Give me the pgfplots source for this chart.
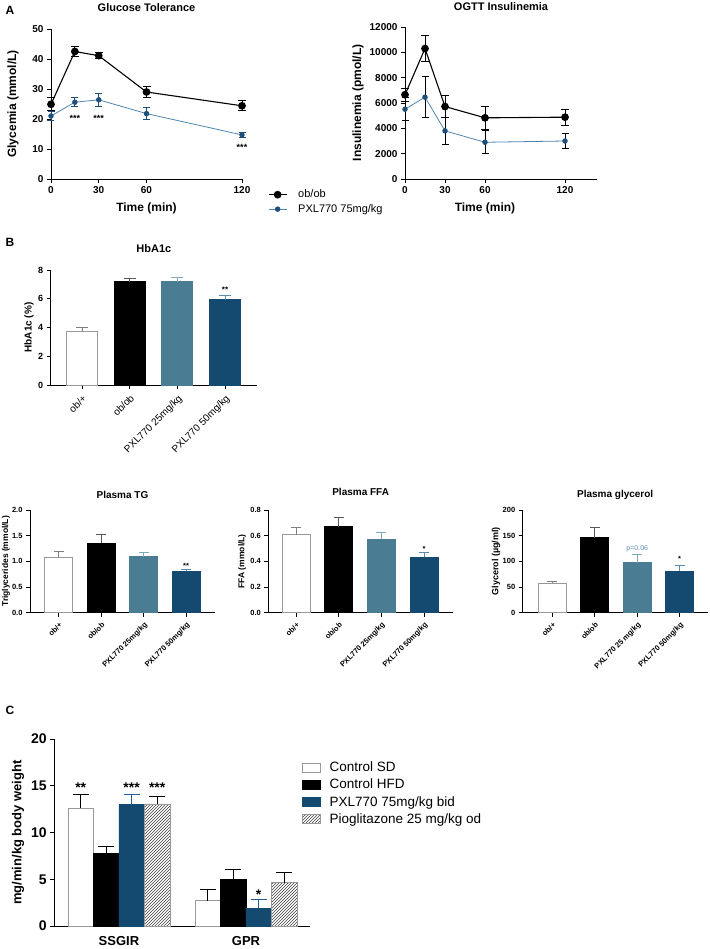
\documentclass[border=0pt]{standalone}
\usepackage{fontspec}
\setmainfont{Liberation Sans}
\usepackage{pgfplots}
\pgfplotsset{compat=1.18}
\usetikzlibrary{patterns}
\definecolor{dblue}{HTML}{154A70}
\definecolor{tealb}{HTML}{4A7C93}
\definecolor{lblue}{HTML}{4F86B0}
\definecolor{mblue}{HTML}{1D4F7A}
\definecolor{ebteal}{HTML}{7FAABD}
\definecolor{ebdblue}{HTML}{5B8DB3}
\definecolor{pblue}{HTML}{1F5F95}
\pgfplotsset{
 gp/.style={scale only axis, axis lines=left, axis line style={line width=0.9pt,-},
  tick align=outside, major tick length=4pt, tick style={line width=0.9pt, black},
  clip=false, /pgf/number format/assume math mode=true, /pgf/number format/1000 sep={},
  scaled ticks=false},
 ylpos/.style={every axis y label/.style={at={(axis description cs:#1,0.5)}, rotate=90, anchor=center}},
 ttl/.style={every axis title/.style={at={(axis description cs:0.5,1)}, anchor=base, yshift=#1}},
 eb/.style n args={2}{/pgfplots/error bars/y dir=plus, /pgfplots/error bars/y explicit,
  /pgfplots/error bars/error bar style={line width=0.9pt, color=#1},
  /pgfplots/error bars/error mark options={rotate=90, mark size=#2, line width=0.9pt, color=#1}},
 ebb/.style n args={2}{/pgfplots/error bars/y dir=both, /pgfplots/error bars/y explicit,
  /pgfplots/error bars/error bar style={line width=0.9pt, color=#1},
  /pgfplots/error bars/error mark options={rotate=90, mark size=#2, line width=0.9pt, color=#1}},
}
\begin{document}
\begin{tikzpicture}[x=1pt,y=1pt]
\path[use as bounding box] (0,0) rectangle (709,-949);
\node[font=\bfseries\fontsize{12}{14}\selectfont] at (10,-10) {A};
\node[font=\bfseries\fontsize{12}{14}\selectfont] at (10,-242) {B};
\node[font=\bfseries\fontsize{12}{14}\selectfont] at (10,-710) {C};

% ---------- A left: Glucose tolerance
\begin{axis}[gp, at={(51pt,-179pt)}, anchor=south west, width=191pt, height=150pt,
 xmin=0, xmax=120, ymin=0, ymax=50, xtick={0,30,60,120}, ytick={0,10,20,30,40,50},
 ticklabel style={font=\bfseries\fontsize{10}{12}\selectfont},
 title={Glucose Tolerance}, ttl=18pt, title style={font=\bfseries\fontsize{11}{13}\selectfont},
 xlabel={Time (min)}, ylabel={Glycemia (mmol/L)}, ylpos=-0.199,
 every axis x label/.style={at={(axis cs:60,0)}, anchor=base, yshift=-33pt},
 label style={font=\bfseries\fontsize{12}{14}\selectfont},
 legend image code/.code={\draw[mark repeat=2,mark phase=2,#1] plot coordinates {(0pt,0pt) (9pt,0pt) (18pt,0pt)}; \path (27pt,0pt);},
 legend style={at={(1.12,-0.045)}, anchor=north west, draw=none, fill=none,
  font=\fontsize{11}{13}\selectfont, row sep=1pt, cells={anchor=west}},
]
\addplot[black, line width=1.1pt, mark=*, mark size=3.3pt, ebb={black}{4pt}]
 coordinates {(0,24.9)+-(0,2.2) (15,42.5)+-(0,1.7) (30,41.1)+-(0,1.0) (60,29.0)+-(0,1.8) (120,24.4)+-(0,1.7)};
\addlegendentry{ob/ob}
\addplot[lblue, line width=0.8pt, mark=*, mark size=2.3pt, mark options={fill=mblue, draw=mblue}, ebb={mblue}{3.5pt}]
 coordinates {(0,21.0)+-(0,1.5) (15,25.6)+-(0,1.5) (30,26.4)+-(0,2.2) (60,21.8)+-(0,2.0) (120,14.7)+-(0,0.8)};
\addlegendentry{PXL770 75mg/kg}
\node[font=\bfseries\fontsize{9}{10}\selectfont] at (axis cs:15,20.3) {***};
\node[font=\bfseries\fontsize{9}{10}\selectfont] at (axis cs:30,20.3) {***};
\node[font=\bfseries\fontsize{9}{10}\selectfont] at (axis cs:120,10.6) {***};
\end{axis}

% ---------- A right: OGTT insulinemia
\begin{axis}[gp, at={(405pt,-179pt)}, anchor=south west, width=192pt, height=152pt,
 xmin=0, xmax=144, ymin=0, ymax=12000, xtick={0,30,60,120}, ytick={0,2000,4000,6000,8000,10000,12000},
 ticklabel style={font=\bfseries\fontsize{10}{12}\selectfont},
 title={OGTT Insulinemia}, ttl=16pt, title style={font=\bfseries\fontsize{11}{13}\selectfont},
 xlabel={Time (min)}, ylabel={Insulinemia (pmol/L)}, ylpos=-0.245,
 every axis x label/.style={at={(axis cs:60,0)}, anchor=base, yshift=-33pt},
 label style={font=\bfseries\fontsize{12}{14}\selectfont},
]
\addplot[black, line width=1.1pt, mark=*, mark size=3.3pt, ebb={black}{4pt}]
 coordinates {(0,6650)+-(0,520) (15,10300)+-(0,1030) (30,5720)+-(0,870) (60,4830)+-(0,900) (120,4880)+-(0,650)};
\addplot[lblue, line width=0.8pt, mark=*, mark size=2.3pt, mark options={fill=mblue, draw=mblue}, ebb={black}{3.5pt}]
 coordinates {(0,5510)+-(0,920) (15,6460)+-(0,1640) (30,3800)+-(0,1060) (60,2900)+-(0,920) (120,3000)+-(0,590)};
\end{axis}

% ---------- B HbA1c
\begin{axis}[gp, ybar, at={(50.7pt,-385pt)}, anchor=south west, width=206.3pt, height=115pt,
 xmin=-0.656, xmax=3.67, ymin=0, ymax=8, ytick={0,2,4,6,8}, xtick={0,1,2,3},
 xticklabels={ob/+,ob/ob,PXL770 25mg/kg,PXL770 50mg/kg},
 xticklabel style={rotate=45, anchor=north east, font=\fontsize{10}{12}\selectfont},
 yticklabel style={font=\bfseries\fontsize{9}{11}\selectfont},
 title={HbA1c}, ttl=18pt, title style={font=\bfseries\fontsize{11}{13}\selectfont},
 ylabel={HbA1c (\%)}, ylpos=-0.105, ylabel style={font=\bfseries\fontsize{10}{12}\selectfont},
 bar width=31pt]
\addplot[fill=white, draw=gray!80, line width=0.9pt, bar shift=0pt, eb={gray}{6pt}] coordinates {(0,3.76)+-(0,0.21)};
\addplot[fill=black, draw=black, line width=0.9pt, bar shift=0pt, eb={gray!70!black}{6pt}] coordinates {(1,7.19)+-(0,0.23)};
\addplot[fill=tealb, draw=tealb, line width=0.9pt, bar shift=0pt, eb={ebteal}{6pt}] coordinates {(2,7.17)+-(0,0.33)};
\addplot[fill=dblue, draw=dblue, line width=0.9pt, bar shift=0pt, eb={ebdblue}{6pt}] coordinates {(3,5.92)+-(0,0.28)};
\node[font=\bfseries\fontsize{8}{9}\selectfont] at (axis cs:3,6.62) {**};
\end{axis}

% ---------- B Plasma TG
\begin{axis}[gp, ybar, at={(30pt,-612.7pt)}, anchor=south west, width=185pt, height=102.7pt,
 xmin=-0.677, xmax=3.68, ymin=0, ymax=2, ytick={0,0.5,1,1.5,2}, xtick={0,1,2,3},
 yticklabel style={font=\bfseries\fontsize{7.5}{9}\selectfont, /pgf/number format/fixed, /pgf/number format/fixed zerofill, /pgf/number format/precision=1},
 xticklabels={ob/+,ob/ob,PXL770 25mg/kg,PXL770 50mg/kg},
 xticklabel style={rotate=45, anchor=north east, font=\bfseries\fontsize{7.5}{9}\selectfont},
 title={Plasma TG}, ttl=11.5pt, title style={font=\bfseries\fontsize{10}{12}\selectfont},
 ylabel={Triglycerides (mmol/L)}, ylpos=-0.13, ylabel style={font=\bfseries\fontsize{8.5}{10}\selectfont},
 bar width=28pt]
\addplot[fill=white, draw=gray!80, line width=0.9pt, bar shift=0pt, eb={gray}{5pt}] coordinates {(0,1.08)+-(0,0.11)};
\addplot[fill=black, draw=black, line width=0.9pt, bar shift=0pt, eb={gray!70!black}{5pt}] coordinates {(1,1.35)+-(0,0.18)};
\addplot[fill=tealb, draw=tealb, line width=0.9pt, bar shift=0pt, eb={ebteal}{5pt}] coordinates {(2,1.09)+-(0,0.09)};
\addplot[fill=dblue, draw=dblue, line width=0.9pt, bar shift=0pt, eb={ebdblue}{5pt}] coordinates {(3,0.805)+-(0,0.045)};
\node[font=\bfseries\fontsize{7.5}{9}\selectfont] at (axis cs:3,0.91) {**};
\end{axis}

% ---------- B Plasma FFA
\begin{axis}[gp, ybar, at={(268.3pt,-612.7pt)}, anchor=south west, width=184.7pt, height=102.7pt,
 xmin=-0.65, xmax=3.68, ymin=0, ymax=0.8, ytick={0,0.2,0.4,0.6,0.8}, xtick={0,1,2,3},
 yticklabel style={font=\bfseries\fontsize{7.5}{9}\selectfont, /pgf/number format/fixed, /pgf/number format/fixed zerofill, /pgf/number format/precision=1},
 xticklabels={ob/+,ob/ob,PXL770 25mg/kg,PXL770 50mg/kg},
 xticklabel style={rotate=45, anchor=north east, font=\bfseries\fontsize{7.5}{9}\selectfont},
 title={Plasma FFA}, ttl=14.5pt, title style={font=\bfseries\fontsize{10}{12}\selectfont},
 ylabel={FFA (mmol/L)}, ylpos=-0.142, ylabel style={font=\bfseries\fontsize{8.5}{10}\selectfont},
 bar width=28pt]
\addplot[fill=white, draw=gray!80, line width=0.9pt, bar shift=0pt, eb={gray}{5pt}] coordinates {(0,0.608)+-(0,0.054)};
\addplot[fill=black, draw=black, line width=0.9pt, bar shift=0pt, eb={gray!70!black}{5pt}] coordinates {(1,0.670)+-(0,0.075)};
\addplot[fill=tealb, draw=tealb, line width=0.9pt, bar shift=0pt, eb={ebteal}{5pt}] coordinates {(2,0.574)+-(0,0.055)};
\addplot[fill=dblue, draw=dblue, line width=0.9pt, bar shift=0pt, eb={ebdblue}{5pt}] coordinates {(3,0.431)+-(0,0.037)};
\node[font=\bfseries\fontsize{7.5}{9}\selectfont] at (axis cs:3,0.50) {*};
\end{axis}

% ---------- B Plasma glycerol
\begin{axis}[gp, ybar, at={(522.7pt,-612.7pt)}, anchor=south west, width=185pt, height=102.7pt,
 xmin=-0.70, xmax=3.66, ymin=0, ymax=200, ytick={0,50,100,150,200}, xtick={0,1,2,3},
 yticklabel style={font=\bfseries\fontsize{7.5}{9}\selectfont},
 xticklabels={ob/+,ob/ob,PXL770 25 mg/kg,PXL770 50mg/kg},
 xticklabel style={rotate=45, anchor=north east, font=\bfseries\fontsize{7.5}{9}\selectfont},
 title={Plasma glycerol}, ttl=13pt, title style={font=\bfseries\fontsize{10}{12}\selectfont},
 ylabel={Glycerol (µg/ml)}, ylpos=-0.144, ylabel style={font=\bfseries\fontsize{9}{11}\selectfont},
 bar width=28pt]
\addplot[fill=white, draw=gray!80, line width=0.9pt, bar shift=0pt, eb={gray}{5pt}] coordinates {(0,57)+-(0,4.7)};
\addplot[fill=black, draw=black, line width=0.9pt, bar shift=0pt, eb={gray!70!black}{5pt}] coordinates {(1,146)+-(0,19.6)};
\addplot[fill=tealb, draw=tealb, line width=0.9pt, bar shift=0pt, eb={ebteal}{5pt}] coordinates {(2,97.4)+-(0,16.2)};
\addplot[fill=dblue, draw=dblue, line width=0.9pt, bar shift=0pt, eb={ebdblue}{5pt}] coordinates {(3,81.2)+-(0,10.4)};
\node[font=\fontsize{7}{8}\selectfont, text=ebdblue] at (axis cs:2,124) {p=0.06};
\node[font=\bfseries\fontsize{7.5}{9}\selectfont] at (axis cs:3,104) {*};
\end{axis}

% ---------- C clamp
\begin{axis}[gp, ybar=0pt, bar width=25.5pt, at={(54.3pt,-926pt)}, anchor=south west, width=255.7pt, height=187pt,
 xmin=-0.509, xmax=1.504, ymin=0, ymax=20, ytick={0,5,10,15,20}, xtick={0,1},
 xticklabels={SSGIR,GPR}, xtick style={draw=none},
 xticklabel style={font=\bfseries\fontsize{13}{15}\selectfont, yshift=-3pt},
 yticklabel style={font=\bfseries\fontsize{14}{16}\selectfont},
 ylabel={mg/min/kg body weight}, ylpos=-0.142, ylabel style={font=\bfseries\fontsize{13}{15}\selectfont},
 legend image code/.code={\draw[#1] (0pt,-4.5pt) rectangle (18pt,4.5pt); \path (25pt,0pt);},
 legend style={at={(0.955,0.9)}, anchor=north west, draw=none, fill=none,
  font=\fontsize{13.5}{15}\selectfont, row sep=2pt, cells={anchor=west}},
]
\addplot[fill=white, draw=gray!80, line width=0.9pt, eb={black}{8pt}] coordinates {(0,12.6)+-(0,1.5) (1,2.7)+-(0,1.2)};
\addlegendentry{Control SD}
\addplot[fill=black, draw=black, line width=0.9pt, eb={black}{8pt}] coordinates {(0,7.77)+-(0,0.71) (1,5.0)+-(0,1.06)};
\addlegendentry{Control HFD}
\addplot[fill=dblue, draw=dblue, line width=0.9pt, eb={pblue}{8pt}] coordinates {(0,12.97)+-(0,1.11) (1,1.9)+-(0,0.95)};
\addlegendentry{PXL770 75mg/kg bid}
\addplot[pattern=north east lines, pattern color=black!75, draw=gray!80, line width=0.9pt, eb={black}{8pt}] coordinates {(0,13.05)+-(0,0.85) (1,4.63)+-(0,1.11)};
\addlegendentry{Pioglitazone 25 mg/kg od}
\node[font=\bfseries\fontsize{14}{16}\selectfont] at (axis cs:-0.301,14.8) {**};
\node[font=\bfseries\fontsize{14}{16}\selectfont] at (axis cs:0.100,14.8) {***};
\node[font=\bfseries\fontsize{14}{16}\selectfont] at (axis cs:0.301,14.8) {***};
\node[font=\bfseries\fontsize{14}{16}\selectfont] at (axis cs:1.100,3.3) {*};
\end{axis}
\end{tikzpicture}
\end{document}
